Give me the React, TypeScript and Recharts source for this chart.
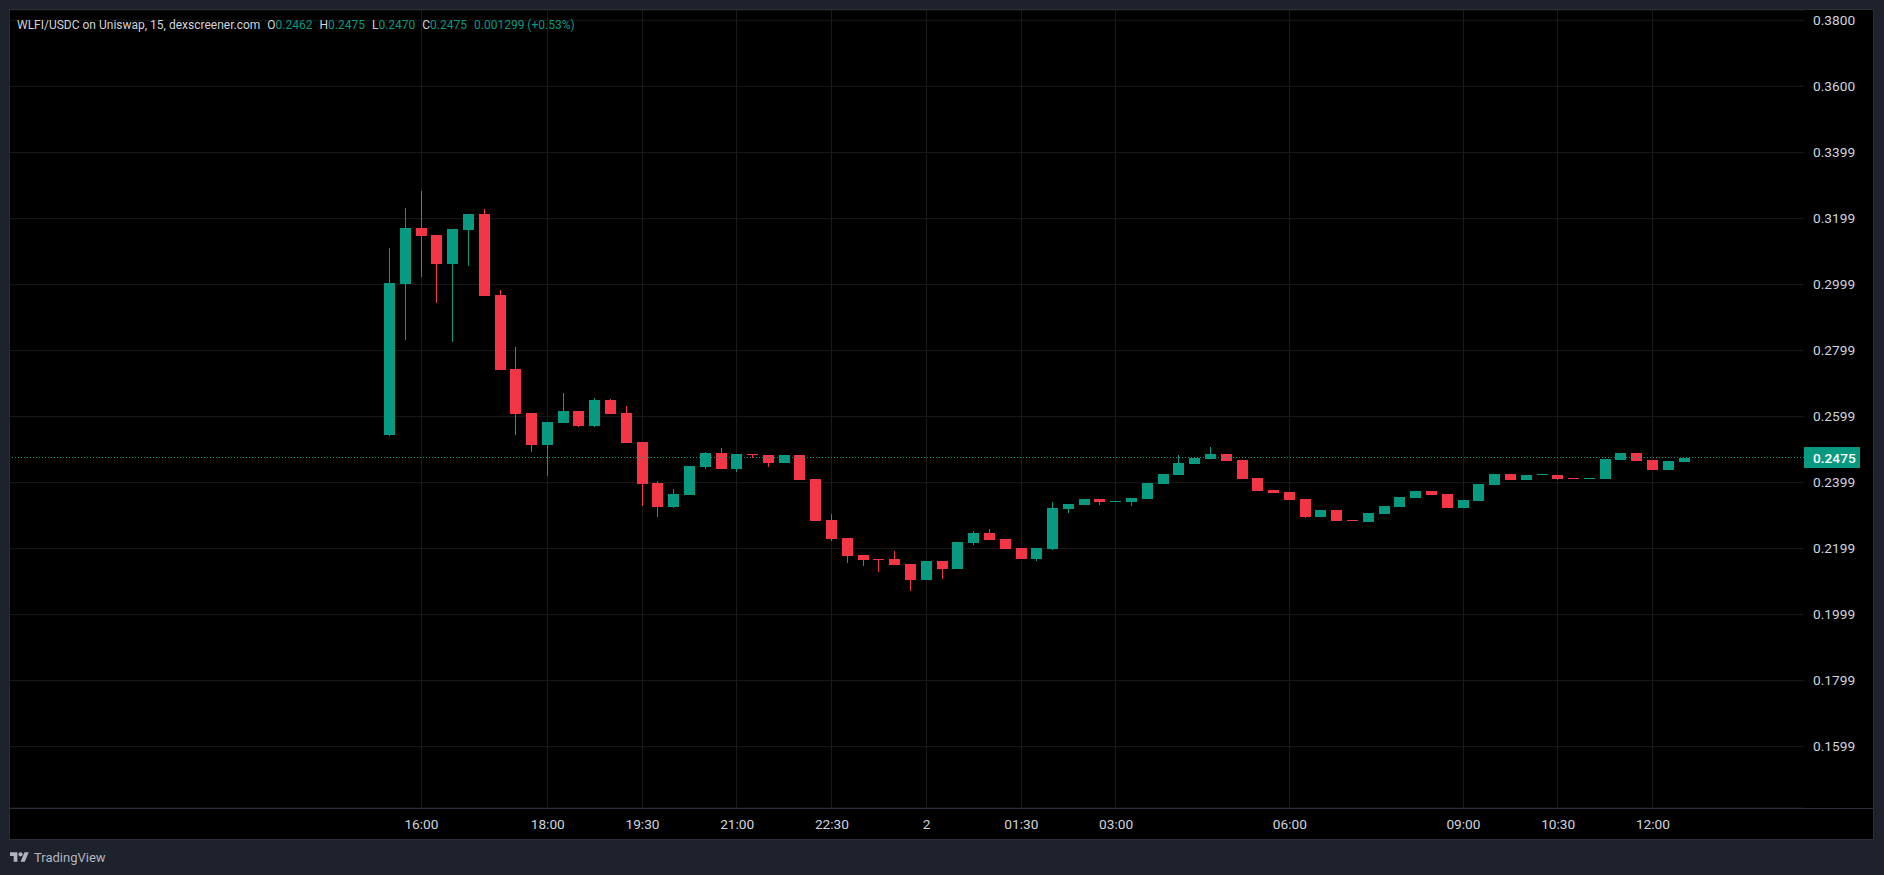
import React from "react";
import {
  ComposedChart,
  Bar,
  XAxis,
  YAxis,
  CartesianGrid,
  ReferenceLine,
} from "recharts";

const GREEN = "#089981";
const RED = "#f23645";
const AXIS_TEXT = "#d1d4dc";
const FRAME = "#1e222d";
const BORDER = "#2a2e39";
const GRID = "#1a1a1a";

// 15 minute bars, WLFI/USDC (04:30 and 07:30 have no bar)
const times = [
  "15:30", "15:45", "16:00", "16:15", "16:30", "16:45", "17:00", "17:15", "17:30", "17:45",
  "18:00", "18:15", "18:30", "18:45", "19:00", "19:15", "19:30", "19:45", "20:00", "20:15",
  "20:30", "20:45", "21:00", "21:15", "21:30", "21:45", "22:00", "22:15", "22:30", "22:45",
  "23:00", "23:15", "23:30", "23:45", "00:00", "00:15", "00:30", "00:45", "01:00", "01:15",
  "01:30", "01:45", "02:00", "02:15", "02:30", "02:45", "03:00", "03:15", "03:30", "03:45",
  "04:00", "04:15", "04:45", "05:00", "05:15", "05:30", "05:45", "06:00", "06:15", "06:30",
  "06:45", "07:00", "07:15", "07:45", "08:00", "08:15", "08:30", "08:45", "09:00", "09:15",
  "09:30", "09:45", "10:00", "10:15", "10:30", "10:45", "11:00", "11:15", "11:30", "11:45",
  "12:00", "12:15", "12:30",
];

const opens = [
  0.2541, 0.3001, 0.3171, 0.3149, 0.3062, 0.3165, 0.3213, 0.2967, 0.2743, 0.2610,
  0.2513, 0.2580, 0.2616, 0.2571, 0.2649, 0.2610, 0.2522, 0.2398, 0.2326, 0.2362,
  0.2446, 0.2489, 0.2440, 0.2486, 0.2483, 0.2458, 0.2483, 0.2410, 0.2286, 0.2231,
  0.2180, 0.2168, 0.2168, 0.2152, 0.2104, 0.2162, 0.2137, 0.2216, 0.2246, 0.2228,
  0.2201, 0.2168, 0.2198, 0.2319, 0.2331, 0.2349, 0.2341, 0.2340, 0.2349, 0.2395,
  0.2422, 0.2455, 0.2471, 0.2486, 0.2468, 0.2413, 0.2377, 0.2371, 0.2349, 0.2295,
  0.2316, 0.2286, 0.2280, 0.2304, 0.2325, 0.2352, 0.2374, 0.2365, 0.2322, 0.2343,
  0.2392, 0.2425, 0.2407, 0.2422, 0.2422, 0.2414, 0.2412, 0.2410, 0.2468, 0.2489,
  0.2468, 0.2437, 0.2462,
];

const highs = [
  0.3110, 0.3231, 0.3283, 0.3149, 0.3168, 0.3213, 0.3228, 0.2983, 0.2810, 0.2610,
  0.2583, 0.2671, 0.2616, 0.2655, 0.2652, 0.2631, 0.2522, 0.2404, 0.2380, 0.2449,
  0.2492, 0.2504, 0.2486, 0.2486, 0.2483, 0.2483, 0.2483, 0.2410, 0.2304, 0.2231,
  0.2180, 0.2168, 0.2192, 0.2152, 0.2162, 0.2162, 0.2219, 0.2252, 0.2259, 0.2228,
  0.2201, 0.2201, 0.2340, 0.2334, 0.2349, 0.2349, 0.2343, 0.2352, 0.2398, 0.2425,
  0.2483, 0.2474, 0.2507, 0.2486, 0.2468, 0.2413, 0.2377, 0.2371, 0.2349, 0.2316,
  0.2316, 0.2286, 0.2307, 0.2328, 0.2355, 0.2374, 0.2374, 0.2365, 0.2346, 0.2395,
  0.2425, 0.2425, 0.2422, 0.2424, 0.2422, 0.2414, 0.2414, 0.2471, 0.2489, 0.2489,
  0.2468, 0.2465, 0.2475,
];

const lows = [
  0.2541, 0.2831, 0.3022, 0.2943, 0.2825, 0.3055, 0.2964, 0.2740, 0.2543, 0.2492,
  0.2419, 0.2580, 0.2568, 0.2568, 0.2607, 0.2519, 0.2328, 0.2295, 0.2322, 0.2362,
  0.2440, 0.2440, 0.2431, 0.2475, 0.2446, 0.2458, 0.2407, 0.2283, 0.2222, 0.2155,
  0.2146, 0.2128, 0.2149, 0.2071, 0.2104, 0.2107, 0.2137, 0.2210, 0.2225, 0.2198,
  0.2168, 0.2162, 0.2195, 0.2307, 0.2331, 0.2331, 0.2341, 0.2328, 0.2349, 0.2395,
  0.2422, 0.2455, 0.2471, 0.2465, 0.2410, 0.2374, 0.2368, 0.2346, 0.2292, 0.2295,
  0.2283, 0.2284, 0.2280, 0.2304, 0.2325, 0.2352, 0.2362, 0.2322, 0.2322, 0.2343,
  0.2392, 0.2407, 0.2407, 0.2422, 0.2407, 0.2412, 0.2412, 0.2410, 0.2468, 0.2465,
  0.2437, 0.2437, 0.2462,
];

const closes = [
  0.3003, 0.3171, 0.3146, 0.3062, 0.3168, 0.3213, 0.2964, 0.2740, 0.2607, 0.2513,
  0.2583, 0.2616, 0.2571, 0.2649, 0.2607, 0.2519, 0.2396, 0.2326, 0.2365, 0.2449,
  0.2489, 0.2440, 0.2486, 0.2483, 0.2458, 0.2483, 0.2407, 0.2283, 0.2228, 0.2177,
  0.2165, 0.2166, 0.2149, 0.2104, 0.2162, 0.2137, 0.2219, 0.2246, 0.2225, 0.2198,
  0.2168, 0.2201, 0.2322, 0.2334, 0.2349, 0.2340, 0.2343, 0.2352, 0.2398, 0.2425,
  0.2458, 0.2474, 0.2486, 0.2465, 0.2410, 0.2374, 0.2368, 0.2346, 0.2295, 0.2316,
  0.2283, 0.2284, 0.2307, 0.2328, 0.2355, 0.2374, 0.2362, 0.2322, 0.2346, 0.2395,
  0.2425, 0.2407, 0.2422, 0.2424, 0.2410, 0.2412, 0.2414, 0.2471, 0.2489, 0.2465,
  0.2437, 0.2465, 0.2475,
];

const priceTicks = [
  0.38, 0.36, 0.3399, 0.3199, 0.2999, 0.2799, 0.2599, 0.2399, 0.2199, 0.1999, 0.1799, 0.1599,
];
const timeTicks = [
  "16:00", "18:00", "19:30", "21:00", "22:30", "00:00", "01:30", "03:00", "06:00", "09:00", "10:30", "12:00",
];
const lastPrice = 0.2475;

const data = times.map((time, i) => ({
  time,
  open: opens[i],
  high: highs[i],
  low: lows[i],
  close: closes[i],
  range: [lows[i], highs[i]],
}));

function Candle(props: any) {
  const { x, y, width, height, payload, background } = props;
  if (x == null || y == null || !payload) return null;
  const { open, close, high, low } = payload;
  const color = close >= open ? GREEN : RED;
  const top = Math.min(y, y + height);
  const h = Math.abs(height);
  const k = h / (high - low);
  const yOpen = top + (high - open) * k;
  const yClose = top + (high - close) * k;
  const bodyTop = Math.round(Math.min(yOpen, yClose));
  const bodyH = Math.max(1, Math.round(Math.abs(yOpen - yClose)));
  const bx = Math.round(x);
  const wx = bx + Math.floor(width / 2) + 0.5;
  // vertical grid line behind the bars that carry a time label
  const grid =
    background && timeTicks.includes(payload.time) ? (
      <line
        x1={wx}
        x2={wx}
        y1={background.y}
        y2={background.y + background.height}
        stroke={GRID}
        strokeWidth={1}
      />
    ) : null;
  return (
    <g>
      {grid}
      <line x1={wx} x2={wx} y1={Math.round(top)} y2={Math.round(top + h)} stroke={color} strokeWidth={1} />
      <rect x={bx} y={bodyTop} width={Math.round(width)} height={bodyH} fill={color} />
    </g>
  );
}

function PriceBadge(props: any) {
  const vb = props.viewBox || {};
  const x = (vb.x ?? 0) + (vb.width ?? 0);
  const y = vb.y ?? 0;
  return (
    <g>
      <rect x={x} y={y - 10.5} width={56} height={21} fill={GREEN} />
      <text
        x={x + 9}
        y={y + 5}
        fill="#ffffff"
        fontFamily="Roboto"
        fontSize={13.7}
        fontWeight={500}
      >
        {lastPrice.toFixed(4)}
      </text>
    </g>
  );
}

function Legend() {
  const val = { color: GREEN };
  return (
    <div
      style={{
        position: "absolute",
        left: 7,
        top: 7,
        fontFamily: "Roboto",
        fontSize: 12,
        lineHeight: "16px",
        color: AXIS_TEXT,
        whiteSpace: "pre",
      }}
    >
      WLFI/USDC on Uniswap, 15, dexscreener.com
      <span style={{ marginLeft: 7 }}>O</span>
      <span style={val}>0.2462</span>
      <span style={{ marginLeft: 7 }}>H</span>
      <span style={val}>0.2475</span>
      <span style={{ marginLeft: 7 }}>L</span>
      <span style={val}>0.2470</span>
      <span style={{ marginLeft: 7 }}>C</span>
      <span style={val}>0.2475</span>
      <span style={{ ...val, marginLeft: 7 }}>0.001299 (+0.53%)</span>
    </div>
  );
}

export default function App() {
  return (
    <div
      style={{
        position: "absolute",
        left: 0,
        top: 0,
        width: 1884,
        height: 875,
        background: FRAME,
        overflow: "hidden",
      }}
    >
      <div
        style={{
          position: "absolute",
          left: 9,
          top: 9,
          width: 1863,
          height: 829,
          border: `1px solid ${BORDER}`,
          background: "#000000",
        }}
      >
        <ComposedChart
          width={1863}
          height={829}
          data={data}
          margin={{ top: 0, right: 0, bottom: 0, left: 0 }}
        >
          <CartesianGrid stroke={GRID} strokeWidth={1} vertical={false} />
          <XAxis
            dataKey="time"
            type="category"
            ticks={timeTicks}
            interval={0}
            padding={{ left: 372, right: 111.6 }}
            height={31}
            axisLine={false}
            tickLine={false}
            tickSize={0}
            tickMargin={11}
            tick={{ fill: AXIS_TEXT, fontSize: 13.7, fontFamily: "Roboto" }}
            tickFormatter={(t: string) => (t === "00:00" ? "2" : t)}
          />
          <YAxis
            type="number"
            orientation="right"
            width={69}
            domain={[0.141303, 0.383121]}
            allowDataOverflow
            ticks={priceTicks}
            interval={0}
            axisLine={false}
            tickLine={false}
            tickSize={0}
            tickMargin={9}
            tick={{ fill: AXIS_TEXT, fontSize: 13.7, fontFamily: "Roboto", textAnchor: "start" }}
            tickFormatter={(v: number) => v.toFixed(4)}
          />
          <Bar
            dataKey="range"
            barSize={11}
            isAnimationActive={false}
            shape={(p: any) => <Candle {...p} />}
          />
          <ReferenceLine
            y={lastPrice}
            stroke={GREEN}
            strokeDasharray="1 2"
            label={(p: any) => <PriceBadge {...p} />}
          />
        </ComposedChart>
        <Legend />
        <div
          style={{
            position: "absolute",
            left: 0,
            top: 798,
            width: 1863,
            height: 1,
            background: BORDER,
          }}
        />
      </div>
      <div
        style={{
          position: "absolute",
          left: 10,
          top: 850,
          display: "flex",
          alignItems: "center",
          gap: 5,
          fontFamily: "Roboto",
          fontSize: 13,
          color: "#b2b5be",
        }}
      >
        <svg width={19} height={15} viewBox="0 0 36 28">
          <path d="M14 22H7V11H0V4h14v18zM28 22h-8l7.5-18h8L28 22z" fill="#b2b5be" />
          <circle cx={20} cy={8} r={4} fill="#b2b5be" />
        </svg>
        <span>TradingView</span>
      </div>
    </div>
  );
}
